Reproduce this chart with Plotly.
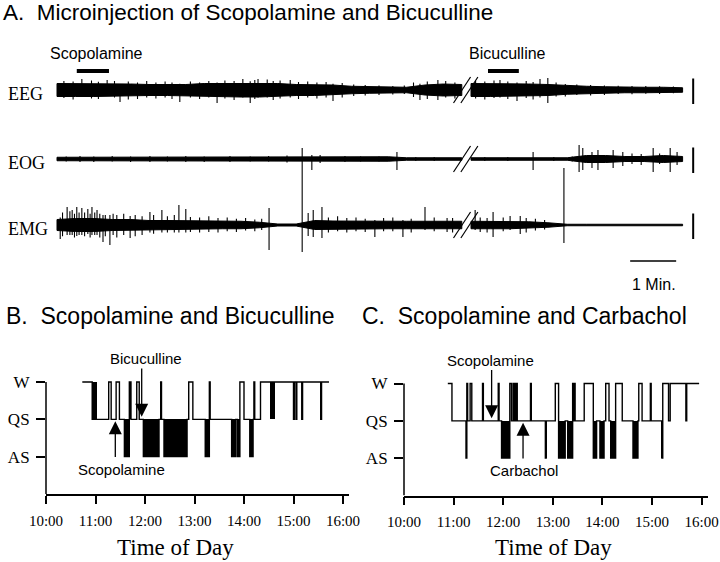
import numpy as np
import plotly.graph_objects as go

W_PX, H_PX = 720, 562
SANS = "Liberation Sans, Arial, Helvetica, sans-serif"
SERIF = "Liberation Serif, Times New Roman, serif"

# ---------------- Panel A data (minutes; amplitude in calibration-bar units) ----------------
channels = ["EEG", "EOG", "EMG"]
seg_left = (0.0, 8.8)      # recording before the break
seg_right = (9.0, 13.6)    # recording after the break

eeg_env_left = [0.26, 0.26, 0.26, 0.26, 0.24, 0.22, 0.22, 0.22, 0.26, 0.26, 0.28, 0.28,
                0.26, 0.22, 0.22, 0.20, 0.15, 0.13, 0.11, 0.11, 0.20, 0.24, 0.22]
eeg_env_right = [0.26, 0.26, 0.24, 0.24, 0.22, 0.17, 0.15, 0.13, 0.11, 0.11, 0.11, 0.09]
eog_env_left = [0.07, 0.07, 0.07, 0.07, 0.07, 0.07, 0.07, 0.07, 0.07, 0.07, 0.07, 0.09,
                0.09, 0.09, 0.07, 0.07, 0.07, 0.09, 0.09, 0.05, 0.05, 0.05, 0.05]
eog_env_right = [0.05, 0.05, 0.05, 0.05, 0.05, 0.05, 0.14, 0.14, 0.10, 0.10, 0.14, 0.10]
emg_env_left = [0.22, 0.26, 0.26, 0.22, 0.22, 0.18, 0.18, 0.18, 0.16, 0.15, 0.15, 0.11,
                0.04, 0.04, 0.18, 0.16, 0.15, 0.15, 0.15, 0.15, 0.15, 0.16, 0.15]
emg_env_right = [0.15, 0.15, 0.15, 0.13, 0.09, 0.03, 0.03, 0.03, 0.03, 0.03, 0.03, 0.03]

eeg_spike_t = [0.15, 0.35, 0.54, 0.75, 0.90, 1.09, 1.25, 1.37, 1.55, 1.75, 1.95, 2.15, 2.35,
               2.50, 2.67, 2.90, 3.10, 3.30, 3.48, 3.65, 3.85, 4.04, 4.20, 4.30, 4.37, 4.57,
               4.70, 4.85, 5.07, 5.25, 5.45, 5.65, 5.85, 6.00, 6.20, 6.45, 6.70, 7.00, 7.30,
               7.55, 7.75, 7.89, 8.05, 8.28, 8.45, 8.65,
               9.10, 9.30, 9.50, 9.63, 9.80, 10.00, 10.20, 10.35, 10.50, 10.67, 10.85, 11.05,
               11.30, 11.60, 11.90, 12.20, 12.50, 12.80, 13.10, 13.40]
eeg_spike_up = [0.36, 0.34, 0.44, 0.38, 0.33, 0.40, 0.36, 0.20, 0.34, 0.30, 0.36, 0.30, 0.34,
                0.30, 0.25, 0.34, 0.30, 0.36, 0.30, 0.38, 0.36, 0.44, 0.35, 0.40, 0.44, 0.42,
                0.36, 0.38, 0.40, 0.32, 0.34, 0.30, 0.32, 0.25, 0.28, 0.22, 0.20, 0.18, 0.16,
                0.18, 0.30, 0.25, 0.34, 0.40, 0.36, 0.30,
                0.36, 0.34, 0.38, 0.40, 0.34, 0.30, 0.36, 0.32, 0.44, 0.48, 0.30, 0.24,
                0.22, 0.20, 0.18, 0.17, 0.16, 0.16, 0.15, 0.14]
eeg_spike_dn = [0.32, 0.38, 0.20, 0.34, 0.36, 0.20, 0.30, 0.48, 0.38, 0.36, 0.30, 0.34, 0.30,
                0.36, 0.48, 0.30, 0.36, 0.30, 0.52, 0.34, 0.40, 0.30, 0.52, 0.36, 0.30, 0.30,
                0.40, 0.34, 0.30, 0.36, 0.30, 0.34, 0.30, 0.44, 0.30, 0.24, 0.22, 0.20, 0.18,
                0.16, 0.28, 0.40, 0.36, 0.40, 0.30, 0.34,
                0.34, 0.38, 0.32, 0.30, 0.36, 0.44, 0.32, 0.38, 0.30, 0.52, 0.26, 0.26,
                0.20, 0.22, 0.20, 0.16, 0.17, 0.15, 0.16, 0.13]

eog_spike_t = [0.20, 0.50, 0.80, 1.20, 1.60, 2.02, 2.40, 2.80, 3.20, 3.76, 4.20, 4.60, 5.00,
               5.33, 5.54, 5.72, 6.26, 6.60, 7.00, 7.39, 7.80, 8.20,
               9.30, 9.80, 10.35, 10.80, 11.20, 11.35, 11.43, 11.63, 11.76, 12.09, 12.30,
               12.50, 12.70, 12.96, 13.10, 13.33, 13.48]
eog_spike_up = [0.10, 0.12, 0.10, 0.12, 0.10, 0.12, 0.10, 0.12, 0.10, 0.12, 0.10, 0.12, 0.14,
                0.44, 0.16, 0.16, 0.12, 0.10, 0.10, 0.28, 0.08, 0.08,
                0.08, 0.08, 0.28, 0.08, 0.10, 0.56, 0.44, 0.28, 0.36, 0.36, 0.28,
                0.22, 0.20, 0.44, 0.22, 0.44, 0.28]
eog_spike_dn = [0.10, 0.12, 0.12, 0.10, 0.12, 0.12, 0.10, 0.12, 0.12, 0.12, 0.10, 0.10, 0.14,
                0.44, 0.44, 0.16, 0.12, 0.10, 0.10, 0.44, 0.08, 0.08,
                0.08, 0.08, 0.44, 0.08, 0.10, 0.52, 0.44, 0.36, 0.44, 0.36, 0.28,
                0.20, 0.24, 0.52, 0.20, 0.52, 0.24]

emg_spike_t = [0.07, 0.12, 0.22, 0.28, 0.33, 0.38, 0.43, 0.48, 0.54, 0.60, 0.67, 0.72, 0.76,
               0.82, 0.87, 0.93, 1.00, 1.05, 1.15, 1.22, 1.30, 1.45, 1.59, 1.70, 1.85, 2.02,
               2.10, 2.28, 2.40, 2.55, 2.65, 2.80, 2.90, 3.10, 3.30, 3.50, 3.70, 3.90, 4.10,
               4.30, 4.45, 4.61, 5.33, 5.46, 5.57, 5.76, 5.90, 6.10, 6.30, 6.50, 6.70, 6.91,
               7.10, 7.30, 7.52, 7.70, 8.00, 8.20, 8.48, 8.60,
               9.09, 9.20, 9.35, 9.48, 9.70, 9.85, 10.07, 10.20, 10.40, 10.60, 11.02]
emg_spike_up = [0.30, 0.50, 0.72, 0.55, 0.60, 0.45, 0.72, 0.50, 0.68, 0.50, 0.64, 0.45, 0.72,
                0.50, 0.60, 0.45, 0.40, 0.40, 0.40, 0.45, 0.40, 0.45, 0.36, 0.40, 0.35, 0.52,
                0.40, 0.60, 0.35, 0.40, 0.80, 0.64, 0.32, 0.30, 0.35, 0.28, 0.30, 0.25, 0.28,
                0.22, 0.25, 0.68, 2.20, 0.48, 0.60, 0.72, 0.30, 0.35, 0.28, 0.30, 0.25, 0.20,
                0.28, 0.30, 0.20, 0.25, 0.72, 0.30, 0.28, 0.28,
                0.60, 0.30, 0.28, 0.52, 0.30, 0.36, 0.36, 0.28, 0.25, 0.20, 2.28]
emg_spike_dn = [0.56, 0.45, 0.40, 0.40, 0.40, 0.50, 0.44, 0.40, 0.40, 0.45, 0.36, 0.50, 0.40,
                0.40, 0.40, 0.50, 0.68, 0.45, 0.80, 0.40, 0.50, 0.40, 0.52, 0.45, 0.40, 0.30,
                0.35, 0.30, 0.30, 0.30, 0.30, 0.30, 0.28, 0.30, 0.28, 0.30, 0.25, 0.28, 0.22,
                0.25, 0.20, 1.00, 1.08, 0.44, 0.48, 0.52, 0.30, 0.25, 0.30, 0.25, 0.28, 0.48,
                0.25, 0.25, 0.48, 0.30, 0.20, 0.25, 0.28, 0.30,
                0.20, 0.28, 0.30, 0.48, 0.25, 0.20, 0.36, 0.30, 0.22, 0.18, 0.72]

a_drugs = ["Scopolamine", "Bicuculline"]
a_drug_start = [0.43, 9.37]
a_drug_end = [1.13, 10.04]

# ---------------- Panel B / C data (sleep-wake state, time of day) ----------------
tick_hours = [10, 11, 12, 13, 14, 15, 16]
tick_labels = ["10:00", "11:00", "12:00", "13:00", "14:00", "15:00", "16:00"]
state_names = ["AS", "QS", "W"]

b_times = ["10:44", "10:56", "11:16", "11:19", "11:25", "11:29", "11:35", "11:41", "11:43",
           "11:50", "11:53", "11:58", "12:17", "12:19", "12:20", "12:23", "12:51", "12:53",
           "12:58", "13:13", "13:18", "13:19", "13:45", "13:50", "13:52", "13:55", "14:00",
           "14:07", "14:11", "14:12", "14:13", "14:20", "15:00", "15:01", "15:03", "15:04",
           "15:10", "15:11", "15:33", "15:34", "15:43"]
b_states = ["W", "QS", "W", "QS", "W", "QS", "AS", "W", "QS",
            "W", "QS", "AS", "QS", "W", "QS", "AS", "QS", "W",
            "QS", "AS", "W", "QS", "AS", "QS", "AS", "W", "QS",
            "AS", "QS", "W", "QS", "W", "QS", "W", "QS", "W",
            "QS", "W", "QS", "W", "W"]
b_dense_start = ["10:56", "11:41", "14:31"]
b_dense_end = ["11:02", "11:43", "14:38"]
b_inject = ["Scopolamine", "Bicuculline"]
b_inject_time = ["11:24", "11:56"]
b_inject_from_above = [False, True]

c_times = ["10:53", "10:58", "11:15", "11:16", "11:17", "11:20", "11:22", "11:35", "11:36",
           "11:54", "11:55", "11:58", "12:08", "12:10", "12:12", "12:13", "12:14", "12:15",
           "12:16", "12:17", "12:33", "12:34", "12:51", "12:52", "13:03", "13:07", "13:15",
           "13:18", "13:24", "13:25", "13:26", "13:27", "13:38", "13:49", "13:53", "13:57",
           "14:02", "14:04", "14:08", "14:10", "14:16", "14:24", "14:37", "14:43", "14:44",
           "14:48", "14:58", "14:59", "15:12", "15:13", "15:20", "15:22", "15:41", "15:42",
           "15:57"]
c_states = ["W", "QS", "AS", "W", "QS", "W", "QS", "W", "QS",
            "W", "QS", "AS", "W", "QS", "W", "QS", "W", "QS",
            "W", "QS", "W", "QS", "AS", "QS", "W", "AS", "QS",
            "AS", "W", "QS", "W", "QS", "W", "AS", "QS", "AS",
            "QS", "W", "QS", "AS", "W", "QS", "AS", "QS", "W",
            "QS", "W", "QS", "AS", "W", "QS", "W", "QS", "W",
            "W"]
c_inject = ["Scopolamine", "Carbachol"]
c_inject_time = ["11:46", "12:24"]
c_inject_from_above = [True, False]


# ---------------- helpers ----------------
def hm(s):
    h, m = s.split(":")
    return int(h) + int(m) / 60.0


def px(x):
    return x / W_PX


def py(y):
    return 1 - y / H_PX


LEVEL = {"AS": 1, "QS": 2, "W": 3}

fig = go.Figure()

# ---------------- Panel A ----------------
A_OFF = {"EEG": 0.0, "EOG": -2.76, "EMG": -5.4}
envs = {"EEG": (eeg_env_left, eeg_env_right),
        "EOG": (eog_env_left, eog_env_right),
        "EMG": (emg_env_left, emg_env_right)}
spikes = {"EEG": (eeg_spike_t, eeg_spike_up, eeg_spike_dn),
          "EOG": (eog_spike_t, eog_spike_up, eog_spike_dn),
          "EMG": (emg_spike_t, emg_spike_up, emg_spike_dn)}

for ch in channels:
    off = A_OFF[ch]
    xs, ys = [], []
    for seg, env in zip((seg_left, seg_right), envs[ch]):
        env = np.array(env)
        t = np.linspace(seg[0], seg[1], len(env))
        xs += list(t) + list(t[::-1]) + [t[0], None]
        ys += list(off + env) + list((off - env)[::-1]) + [off + env[0], None]
    fig.add_trace(go.Scatter(x=xs, y=ys, mode="lines", fill="toself", fillcolor="black",
                             line=dict(color="black", width=1), xaxis="x", yaxis="y",
                             hoverinfo="skip"))
    st, su, sd = spikes[ch]
    sx, sy = [], []
    for t, u, d in zip(st, su, sd):
        sx += [t, t, None]
        sy += [off + u, off - d, None]
    fig.add_trace(go.Scatter(x=sx, y=sy, mode="lines", line=dict(color="black", width=1.1),
                             xaxis="x", yaxis="y", hoverinfo="skip"))

# drug bars
dx, dy = [], []
for a, b in zip(a_drug_start, a_drug_end):
    dx += [a, b, None]
    dy += [0.76, 0.76, None]
fig.add_trace(go.Scatter(x=dx, y=dy, mode="lines", line=dict(color="black", width=4),
                         xaxis="x", yaxis="y", hoverinfo="skip"))

shapes = []
annotations = []

for ch in channels:
    off = A_OFF[ch]
    # break marks
    for x0 in (8.62, 8.78):
        shapes.append(dict(type="line", xref="x", yref="y", x0=x0, x1=x0 + 0.37,
                           y0=off - 0.52, y1=off + 0.52, line=dict(color="black", width=1.2)))
    # vertical calibration bars
    shapes.append(dict(type="line", xref="x", yref="y", x0=13.83, x1=13.83,
                       y0=off + 0.46, y1=off - 0.56, line=dict(color="black", width=2)))
    annotations.append(dict(text=ch, xref="paper", yref="y", x=px(6), y=off - 0.14,
                            xanchor="left", yanchor="middle", showarrow=False,
                            font=dict(family=SERIF, size=18, color="black")))

# time calibration bar (1 min)
shapes.append(dict(type="line", xref="x", yref="y", x0=12.46, x1=13.46, y0=-6.84, y1=-6.84,
                   line=dict(color="black", width=1.6)))
annotations.append(dict(text="1 Min.", xref="x", yref="y", x=12.98, y=-7.76, showarrow=False,
                        xanchor="center", yanchor="middle",
                        font=dict(family=SANS, size=16, color="black")))

for name, a, b in zip(a_drugs, a_drug_start, a_drug_end):
    annotations.append(dict(text=name, xref="x", yref="y", x=(a + b) / 2 + 0.08, y=1.48,
                            showarrow=False, xanchor="center", yanchor="middle",
                            font=dict(family=SANS, size=16, color="black")))

annotations.append(dict(text="A.  Microinjection of Scopolamine and Bicuculline",
                        xref="paper", yref="paper", x=px(1), y=py(13), xanchor="left",
                        yanchor="middle", showarrow=False,
                        font=dict(family=SANS, size=22.5, color="black")))


# ---------------- Panels B and C ----------------
def hypnogram(times, states, dense_s, dense_e, xa, ya):
    x = [hm(t) for t in times]
    y = [LEVEL[s] for s in states]
    cx, wx = [], []
    for i in range(len(x) - 1):
        if states[i] == "AS":
            cx.append((x[i] + x[i + 1]) / 2)
            wx.append(x[i + 1] - x[i])
    if cx:
        fig.add_trace(go.Bar(x=cx, y=[1] * len(cx), base=[1] * len(cx), width=wx,
                             marker=dict(color="black", line=dict(width=0)),
                             xaxis=xa, yaxis=ya, hoverinfo="skip"))
    dcx = [(hm(a) + hm(b)) / 2 for a, b in zip(dense_s, dense_e)]
    dwx = [hm(b) - hm(a) for a, b in zip(dense_s, dense_e)]
    if dcx:
        fig.add_trace(go.Bar(x=dcx, y=[1] * len(dcx), base=[2] * len(dcx), width=dwx,
                             marker=dict(color="black", line=dict(width=0)),
                             xaxis=xa, yaxis=ya, hoverinfo="skip"))
    fig.add_trace(go.Scatter(x=x, y=y, mode="lines",
                             line=dict(shape="hv", color="black", width=1.4),
                             xaxis=xa, yaxis=ya, hoverinfo="skip"))


hypnogram(b_times, b_states, b_dense_start, b_dense_end, "x2", "y2")
hypnogram(c_times, c_states, [], [], "x3", "y3")


def injections(names, times, above, xa, ya, y0px, shifts):
    unit = 37.33
    for name, t, ab, sh in zip(names, times, above, shifts):
        xv = hm(t)
        if ab:
            tail, tip, lab_px = 3.40, 2.07, y0px - 3.62 * unit
        else:
            tail, tip, lab_px = 0.95, 1.95, y0px - 0.66 * unit
        annotations.append(dict(text="", x=xv, y=tip, ax=xv, ay=tail, xref=xa, yref=ya,
                                axref=xa, ayref=ya, showarrow=True, arrowhead=2,
                                arrowsize=2.0, arrowwidth=1.3, arrowcolor="black"))
        annotations.append(dict(text=name, x=xv, y=py(lab_px), xref=xa, yref="paper",
                                xshift=sh, showarrow=False, xanchor="center", yanchor="middle",
                                font=dict(family=SANS, size=15, color="black")))


injections(b_inject, b_inject_time, b_inject_from_above, "x2", "y2", 494, [6, 4])
injections(c_inject, c_inject_time, c_inject_from_above, "x3", "y3", 495.5, [-1, 1])

for xa, ya in (("x2", "y2"), ("x3", "y3")):
    shapes.append(dict(type="line", xref=xa + " domain", yref=ya, x0=0, x1=0, y0=0, y1=3,
                       line=dict(color="black", width=1.5)))

annotations.append(dict(text="B.  Scopolamine and Bicuculline", xref="paper", yref="paper",
                        x=px(4), y=py(316), xanchor="left", yanchor="middle", showarrow=False,
                        font=dict(family=SANS, size=23, color="black")))
annotations.append(dict(text="C.  Scopolamine and Carbachol", xref="paper", yref="paper",
                        x=px(360), y=py(316), xanchor="left", yanchor="middle", showarrow=False,
                        font=dict(family=SANS, size=23, color="black")))
for cxp in (175, 553):
    annotations.append(dict(text="Time of Day", xref="paper", yref="paper", x=px(cxp), y=py(547),
                            xanchor="center", yanchor="middle", showarrow=False,
                            font=dict(family=SERIF, size=23, color="black")))

xcommon = dict(tickvals=tick_hours, ticktext=tick_labels, ticks="outside", ticklen=8,
               tickwidth=1.5, tickcolor="black", showline=True, linecolor="black", linewidth=1.5,
               showgrid=False, zeroline=False, ticklabelstandoff=4, automargin=False,
               tickfont=dict(family=SERIF, size=15, color="black"))
ycommon = dict(tickvals=[1, 2, 3], ticktext=state_names, ticks="outside", ticklen=9,
               tickwidth=1.5, tickcolor="black", showline=False, showgrid=False, zeroline=False,
               range=[0, 3.1], ticklabelstandoff=3, automargin=False,
               tickfont=dict(family=SERIF, size=17, color="black"))

fig.update_layout(
    template="none",
    width=W_PX, height=H_PX, autosize=False,
    margin=dict(l=0, r=0, t=0, b=0, pad=0),
    paper_bgcolor="white", plot_bgcolor="white",
    showlegend=False, barmode="overlay", bargap=0,
    xaxis=dict(domain=[0, 1], range=[-57 / 46, 663 / 46], visible=False, automargin=False),
    yaxis=dict(domain=[py(300), py(30)], range=[-8.4, 2.4], visible=False, automargin=False),
    xaxis2=dict(domain=[px(46), px(349)], range=[10, 10 + 303 / 49.5], anchor="y2", **xcommon),
    yaxis2=dict(domain=[py(494), py(494 - 3.1 * 37.33)], anchor="x2", **ycommon),
    xaxis3=dict(domain=[px(404), px(708)], range=[10, 10 + 304 / 49.6], anchor="y3", **xcommon),
    yaxis3=dict(domain=[py(495.5), py(495.5 - 3.1 * 37.33)], anchor="x3", **ycommon),
    shapes=shapes,
    annotations=annotations,
)

fig.write_html("out.html", config={"displayModeBar": False},
               post_script="document.body.style.margin='0';document.body.style.overflow='hidden';")
